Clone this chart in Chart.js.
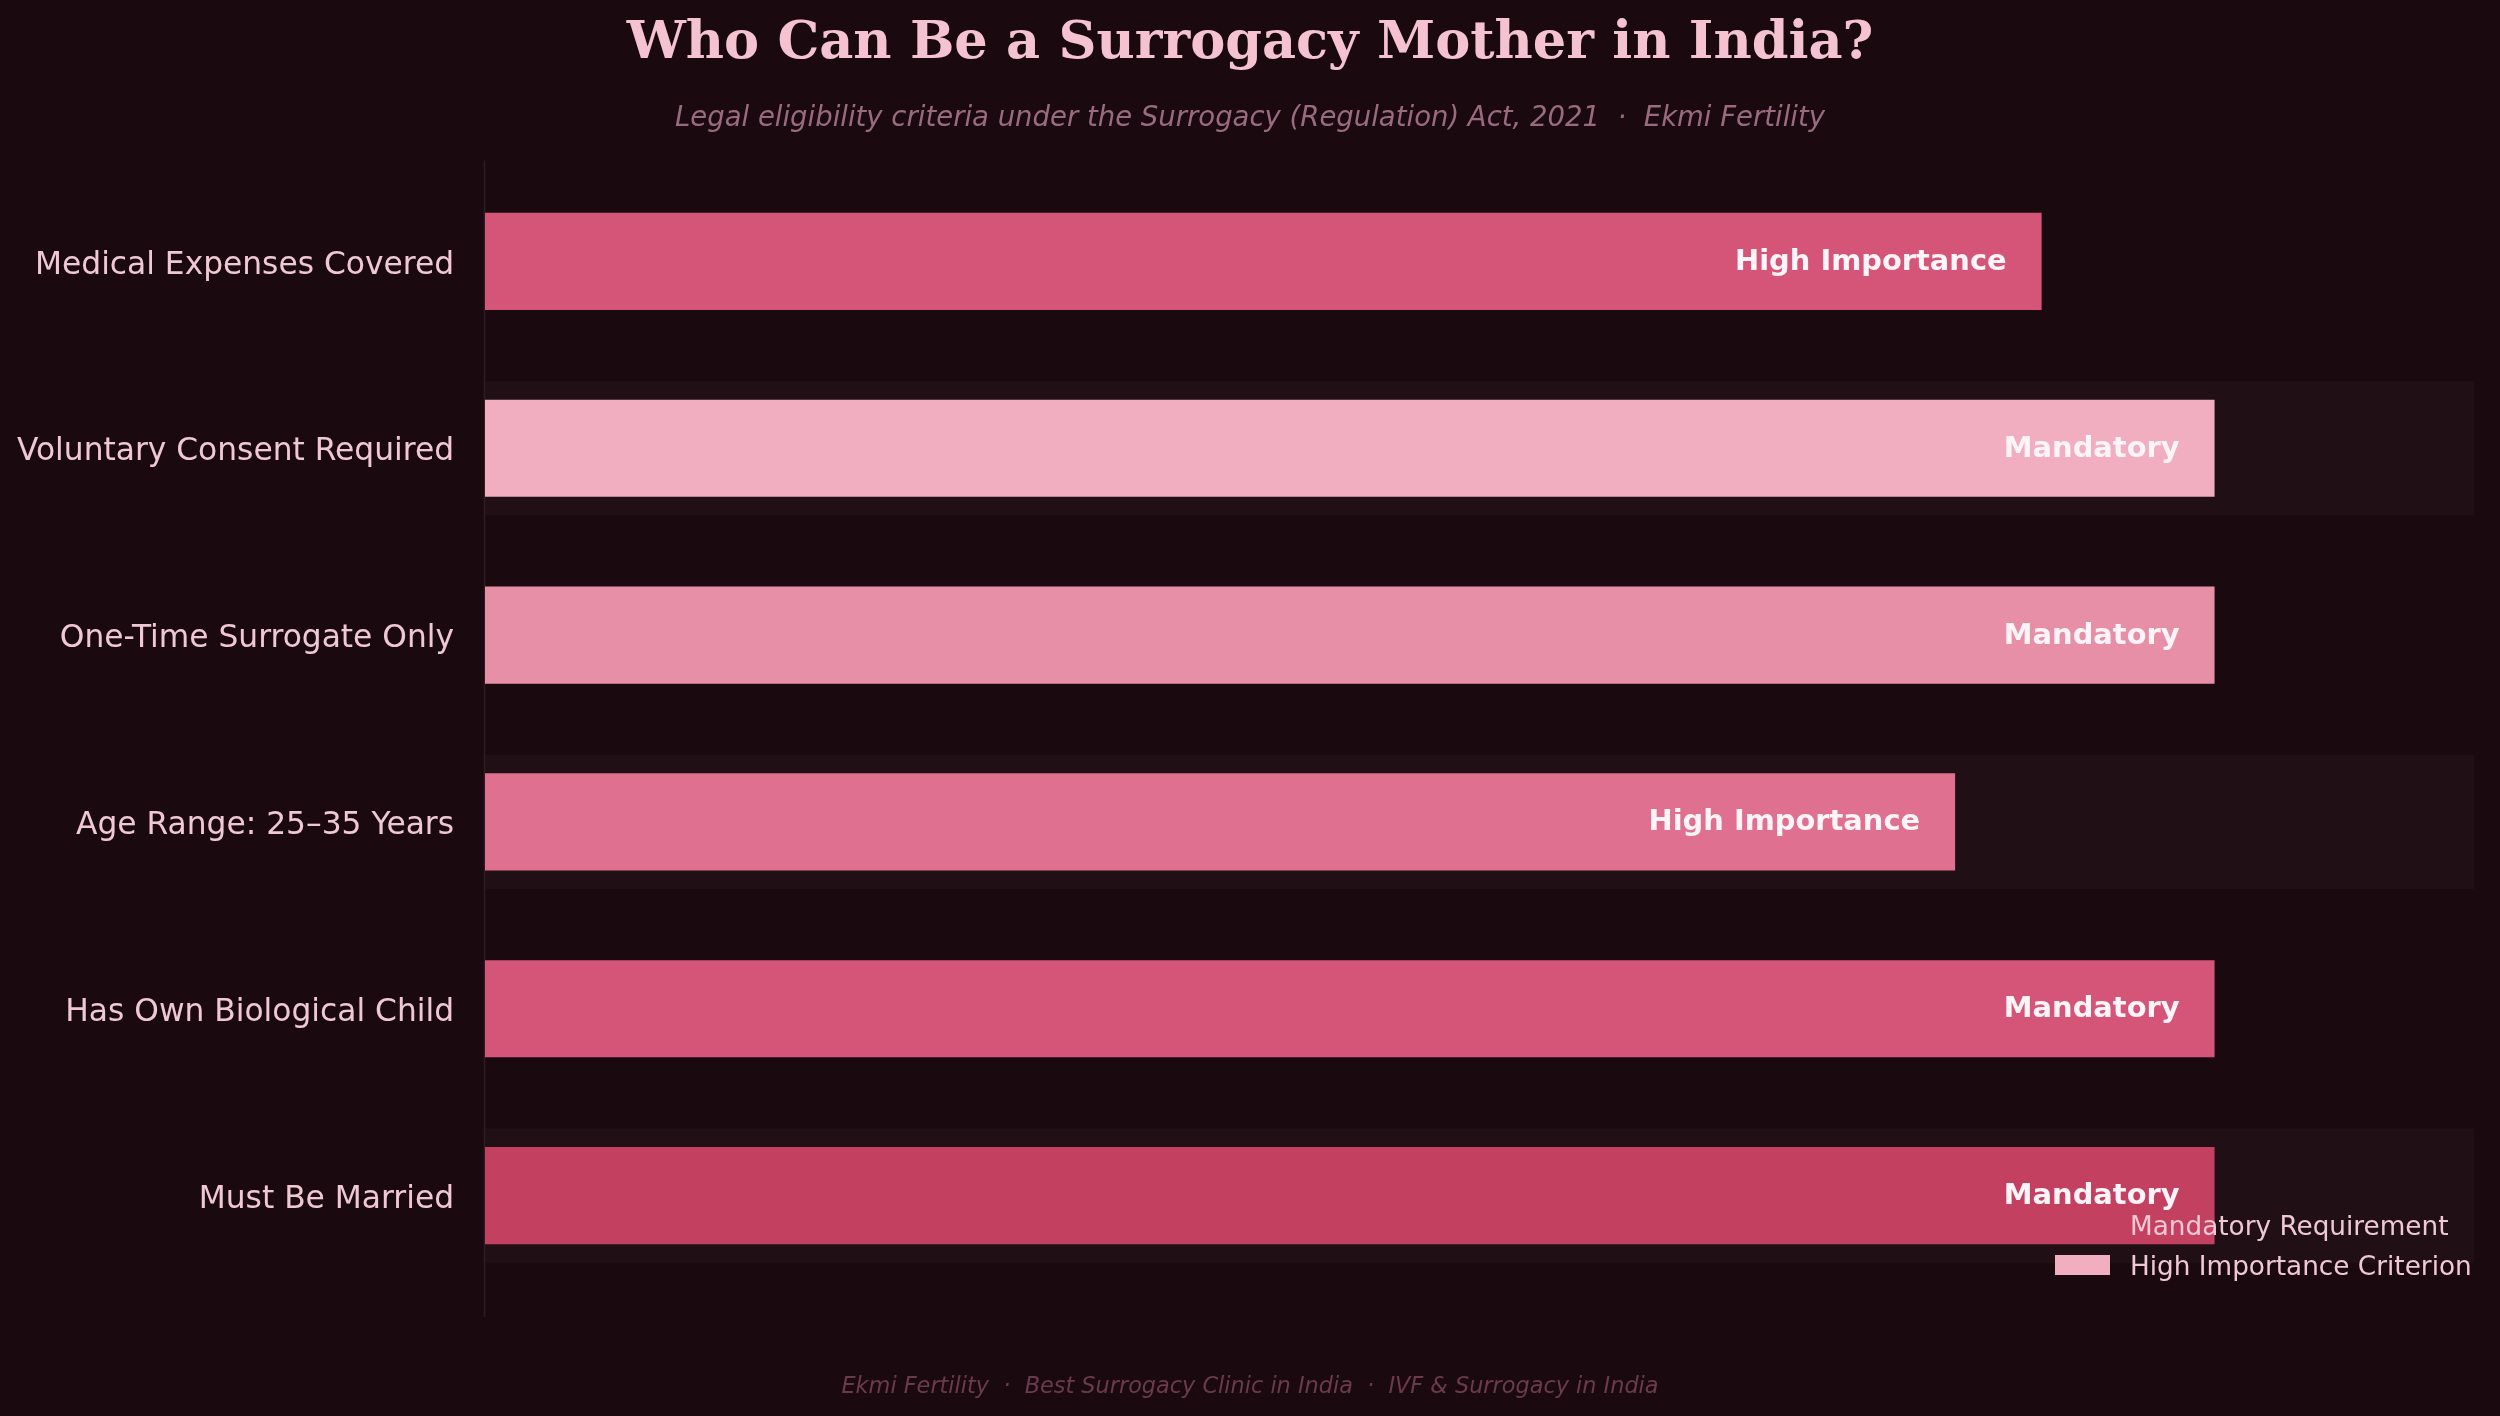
<!DOCTYPE html>
<html>
<head>
<meta charset="utf-8">
<title>Who Can Be a Surrogacy Mother in India?</title>
<script src="https://cdn.jsdelivr.net/npm/chart.js@4.4.1/dist/chart.umd.min.js"></script>
<style>
  html, body { margin: 0; padding: 0; background: #1a0a10; }
  #wrap { width: 2500px; height: 1416px; }
</style>
</head>
<body>
<div id="wrap"><canvas id="criteria" width="2500" height="1416"></canvas></div>
<script>
// criteria, top to bottom as shown
const criteria = [
  'Medical Expenses Covered',
  'Voluntary Consent Required',
  'One-Time Surrogate Only',
  'Age Range: 25–35 Years',
  'Has Own Biological Child',
  'Must Be Married'
];
const scores = [90, 100, 100, 85, 100, 100];
const levels = ['High Importance', 'Mandatory', 'Mandatory', 'High Importance', 'Mandatory', 'Mandatory'];
const barColors = ['#d45578', '#f0aec0', '#e88fa8', '#df7090', '#d45578', '#c44060'];
const legendLabels = ['Mandatory Requirement', 'High Importance Criterion'];
const legendColors = ['#c44060', '#f0aec0'];
const shadedRows = [1, 3, 5];

const BG = '#1a0a10';
const SANS = '"DejaVu Sans", sans-serif';

const backdrop = {
  id: 'backdrop',
  beforeDraw(chart) {
    const c = chart.ctx;
    c.save();
    c.fillStyle = BG;
    c.fillRect(0, 0, chart.width, chart.height);
    c.restore();
  },
  beforeDatasetsDraw(chart) {
    const c = chart.ctx;
    const area = chart.chartArea;
    const y = chart.scales.y;
    const step = y.getPixelForValue(1) - y.getPixelForValue(0);
    c.save();
    c.fillStyle = '#201016';
    shadedRows.forEach(i => {
      const cy = y.getPixelForValue(i);
      c.fillRect(area.left, cy - step * 0.36, area.right - area.left, step * 0.72);
    });
    // faint left spine
    c.strokeStyle = '#2e1c24';
    c.lineWidth = 1.5;
    c.beginPath();
    c.moveTo(area.left - 0.5, y.getPixelForValue(0) - step * 0.54);
    c.lineTo(area.left - 0.5, y.getPixelForValue(criteria.length - 1) + step * 0.65);
    c.stroke();
    c.restore();
  },
  afterDatasetsDraw(chart) {
    const c = chart.ctx;
    const bars = chart.getDatasetMeta(0).data;
    c.save();
    c.font = 'bold 28.9px ' + SANS;
    c.fillStyle = '#fff4f7';
    c.textAlign = 'right';
    c.textBaseline = 'middle';
    bars.forEach((bar, i) => {
      c.fillText(levels[i], bar.x - 35, bar.y + 1);
    });
    c.restore();
  },
  afterDraw(chart) {
    const c = chart.ctx;
    const mid = chart.width / 2;
    c.save();
    c.textAlign = 'center';
    c.textBaseline = 'alphabetic';
    c.fillStyle = '#f5c2d2';
    c.font = 'bold 52.6px "DejaVu Serif", serif';
    c.fillText('Who Can Be a Surrogacy Mother in India?', mid, 58);
    c.fillStyle = '#9a6a7e';
    c.font = 'italic 27.5px ' + SANS;
    c.fillText('Legal eligibility criteria under the Surrogacy (Regulation) Act, 2021  \u00b7  Ekmi Fertility', mid, 126);
    c.fillStyle = '#6b3a4c';
    c.font = 'italic 22.4px ' + SANS;
    c.fillText('Ekmi Fertility  \u00b7  Best Surrogacy Clinic in India  \u00b7  IVF & Surrogacy in India', mid, 1393);

    // legend, lower right inside the plot
    c.textAlign = 'left';
    c.font = '26.3px ' + SANS;
    legendLabels.forEach((txt, i) => {
      const base = 1235 + i * 40;
      c.fillStyle = legendColors[i];
      c.fillRect(2055, base - 20, 55, 20);
      c.fillStyle = '#f0c8d4';
      c.fillText(txt, 2130, base);
    });
    c.restore();
  }
};

new Chart(document.getElementById('criteria'), {
  type: 'bar',
  data: {
    labels: criteria,
    datasets: [{
      data: scores,
      backgroundColor: barColors,
      borderWidth: 0,
      barPercentage: 0.52,
      categoryPercentage: 1
    }]
  },
  options: {
    indexAxis: 'y',
    responsive: false,
    devicePixelRatio: 1,
    animation: false,
    layout: { padding: { top: 168, right: 26, bottom: 127, left: 0 } },
    plugins: {
      legend: { display: false },
      tooltip: { enabled: false }
    },
    scales: {
      x: { min: 0, max: 115, display: false },
      y: {
        grid: { display: false, drawTicks: false },
        border: { display: false },
        ticks: {
          color: '#f0c8d4',
          padding: 31,
          labelOffset: 4,
          font: { family: SANS, size: 31.3 }
        },
        afterFit(scale) { scale.width = 485; }
      }
    }
  },
  plugins: [backdrop]
});
</script>
</body>
</html>
